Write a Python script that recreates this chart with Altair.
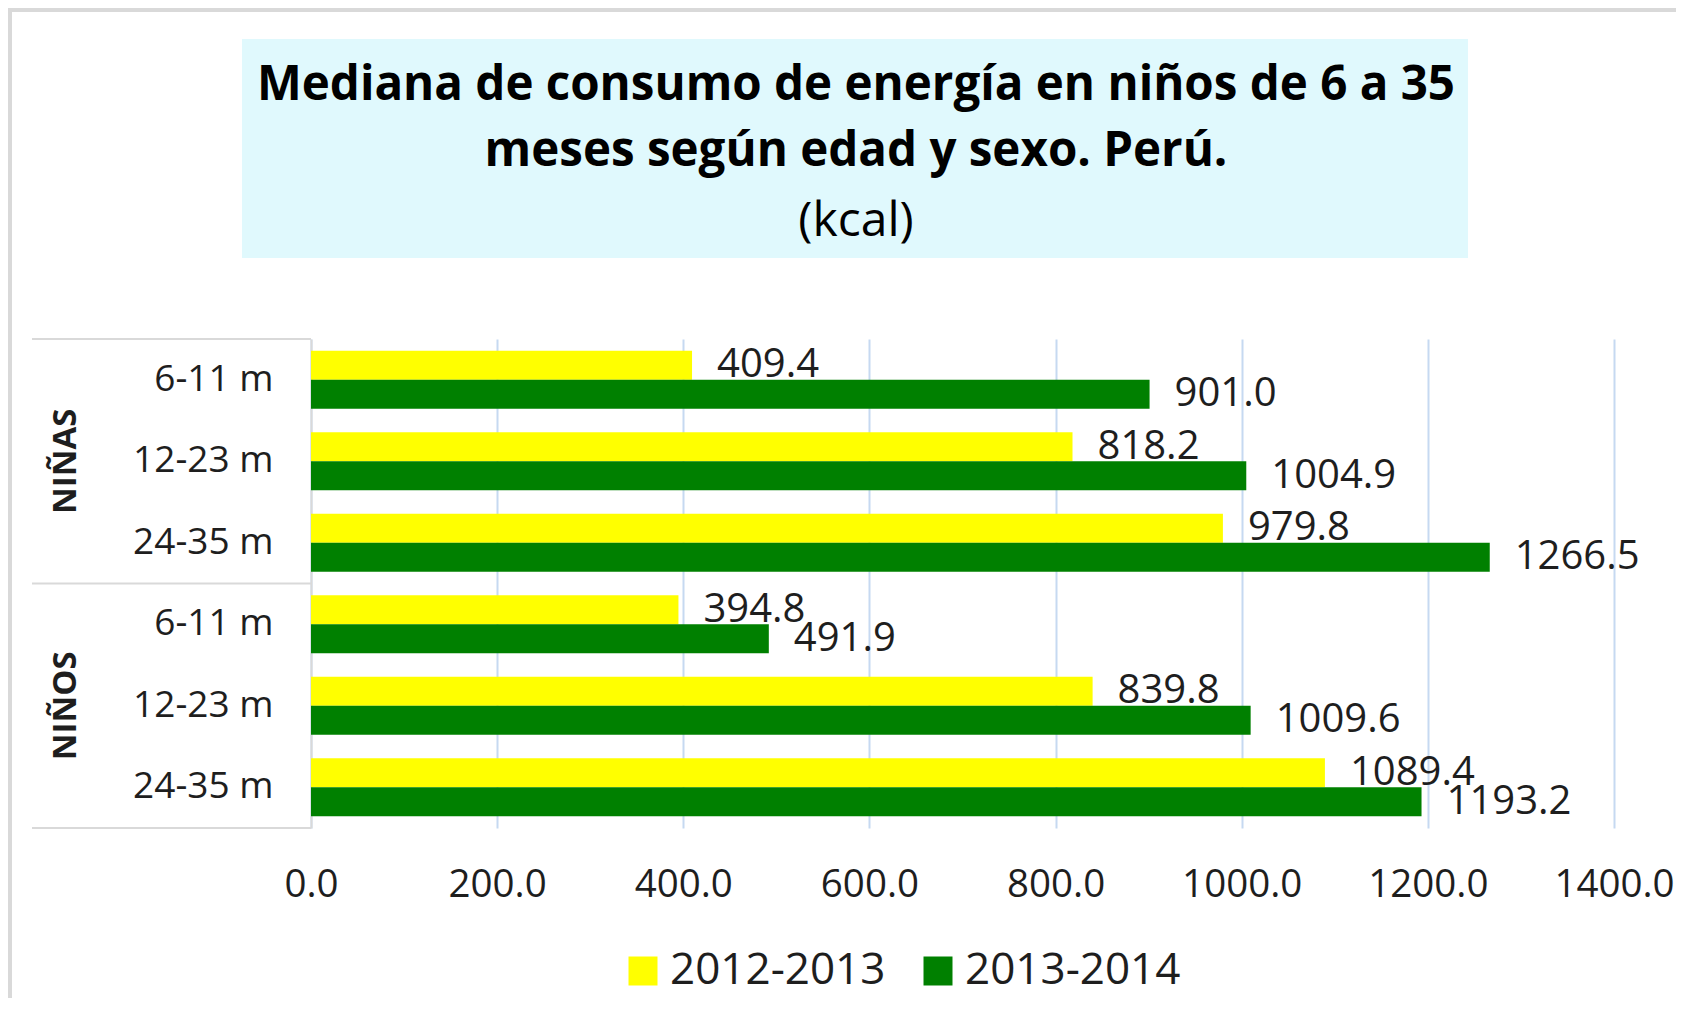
import altair as alt
import pandas as pd

# ---- data ----
groups = ["NIÑAS", "NIÑAS", "NIÑAS", "NIÑOS", "NIÑOS", "NIÑOS"]
ages = ["6-11 m", "12-23 m", "24-35 m", "6-11 m", "12-23 m", "24-35 m"]
series = ["2012-2013", "2013-2014"]
v_2012_2013 = [409.4, 818.2, 979.8, 394.8, 839.8, 1089.4]
v_2013_2014 = [901.0, 1004.9, 1266.5, 491.9, 1009.6, 1193.2]
x_ticks = [0, 200, 400, 600, 800, 1000, 1200, 1400]
title_lines = ["Mediana de consumo de energía en niños de 6 a 35",
               "meses según edad y sexo. Perú."]
subtitle = "(kcal)"

cats = [g + "|" + a for g, a in zip(groups, ages)]
rows = []
for c, a, b in zip(cats, v_2012_2013, v_2013_2014):
    rows.append({"cat": c, "series": series[0], "value": a})
    rows.append({"cat": c, "series": series[1], "value": b})
df = pd.DataFrame(rows)

# group labels, placed on the middle category of each group
grp_df = pd.DataFrame({
    "cat": [cats[1], cats[4]],
    "label": [groups[1], groups[4]],
})
one = pd.DataFrame({"k": [0]})

W, H = 1303, 489
FONT = "Open Sans"
TXT = "#1e1e1e"

y_enc = alt.Y("cat:N", sort=cats, title=None,
              scale=alt.Scale(paddingInner=0.29, paddingOuter=0.145),
              axis=alt.Axis(labelExpr="split(datum.label, '|')[1]",
                            labelFontSize=37, labelFont=FONT, labelColor=TXT,
                            labelPadding=38, ticks=False, domain=True,
                            domainColor="#D9D9D9", domainWidth=2, grid=False))
x_enc = alt.X("value:Q", title=None,
              scale=alt.Scale(domain=[0, 1400], nice=False),
              axis=alt.Axis(values=x_ticks, format=".1f", labelFontSize=38.5,
                            labelFont=FONT, labelColor=TXT, labelPadding=38,
                            labelFlush=False, labelOverlap=False, labelBound=False,
                            ticks=False, domain=False, grid=True,
                            gridColor="#C6D9F1", gridWidth=2))

frame = alt.Chart(one).mark_rect(filled=False, stroke="#D9D9D9", strokeWidth=4).encode(
    x=alt.value(-301), x2=alt.value(1400), y=alt.value(-329), y2=alt.value(720))

title_bg = alt.Chart(one).mark_rect(fill="#E0F9FD").encode(
    x=alt.value(-69), x2=alt.value(1157), y=alt.value(-300), y2=alt.value(-81))

t1 = alt.Chart(one).mark_text(text=title_lines[0], font=FONT, fontWeight="bold",
                              fontSize=47.5, color="#000000", align="center",
                              baseline="middle").encode(
    x=alt.value(545), y=alt.value(-253))
t2 = alt.Chart(one).mark_text(text=title_lines[1], font=FONT, fontWeight="bold",
                              fontSize=47.5, color="#000000", align="center",
                              baseline="middle").encode(
    x=alt.value(545), y=alt.value(-187))
t3 = alt.Chart(one).mark_text(text=subtitle, font=FONT, fontSize=48,
                              color="#000000", align="center",
                              baseline="middle").encode(
    x=alt.value(545), y=alt.value(-117))

box_top = alt.Chart(one).mark_rule(color="#D9D9D9", strokeWidth=2).encode(
    x=alt.value(-279), x2=alt.value(0), y=alt.value(0))
box_mid = alt.Chart(one).mark_rule(color="#D9D9D9", strokeWidth=2).encode(
    x=alt.value(-279), x2=alt.value(0), y=alt.value(H / 2))
box_bot = alt.Chart(one).mark_rule(color="#D9D9D9", strokeWidth=2).encode(
    x=alt.value(-279), x2=alt.value(0), y=alt.value(H))

bars = alt.Chart(df).mark_bar().encode(
    y=y_enc,
    x=x_enc,
    yOffset=alt.YOffset("series:N", sort=series),
    color=alt.Color("series:N", sort=series,
                    scale=alt.Scale(domain=series, range=["#FFFF00", "#008000"]),
                    legend=alt.Legend(title=None, orient="none", direction="horizontal",
                                      legendX=310, legendY=610,
                                      symbolType="square", symbolSize=841,
                                      symbolStrokeWidth=0, labelFontSize=44,
                                      labelFont=FONT, labelColor=TXT, labelLimit=0,
                                      labelOffset=5, columnPadding=30)),
)

labels = alt.Chart(df).mark_text(align="left", baseline="middle", dx=25,
                                 font=FONT, fontSize=40, color=TXT).encode(
    y=y_enc,
    x=x_enc,
    yOffset=alt.YOffset("series:N", sort=series),
    text=alt.Text("value:Q", format=".1f"),
)

grp = alt.Chart(grp_df).mark_text(angle=270, font=FONT, fontWeight="bold",
                                  fontSize=33, color=TXT, align="center",
                                  baseline="middle").encode(
    y=y_enc, x=alt.value(-245), text="label:N")

chart = alt.layer(frame, title_bg, t1, t2, t3, box_top, box_mid, box_bot,
                  bars, labels, grp).properties(
    width=W, height=H,
    autosize=alt.AutoSizeParams(type="none"),
    padding={"left": 303, "top": 331, "right": 62, "bottom": 170},
    background="#FFFFFF",
).configure_view(stroke=None)

chart.save("out.html", embed_options={"renderer": "svg", "actions": False})
